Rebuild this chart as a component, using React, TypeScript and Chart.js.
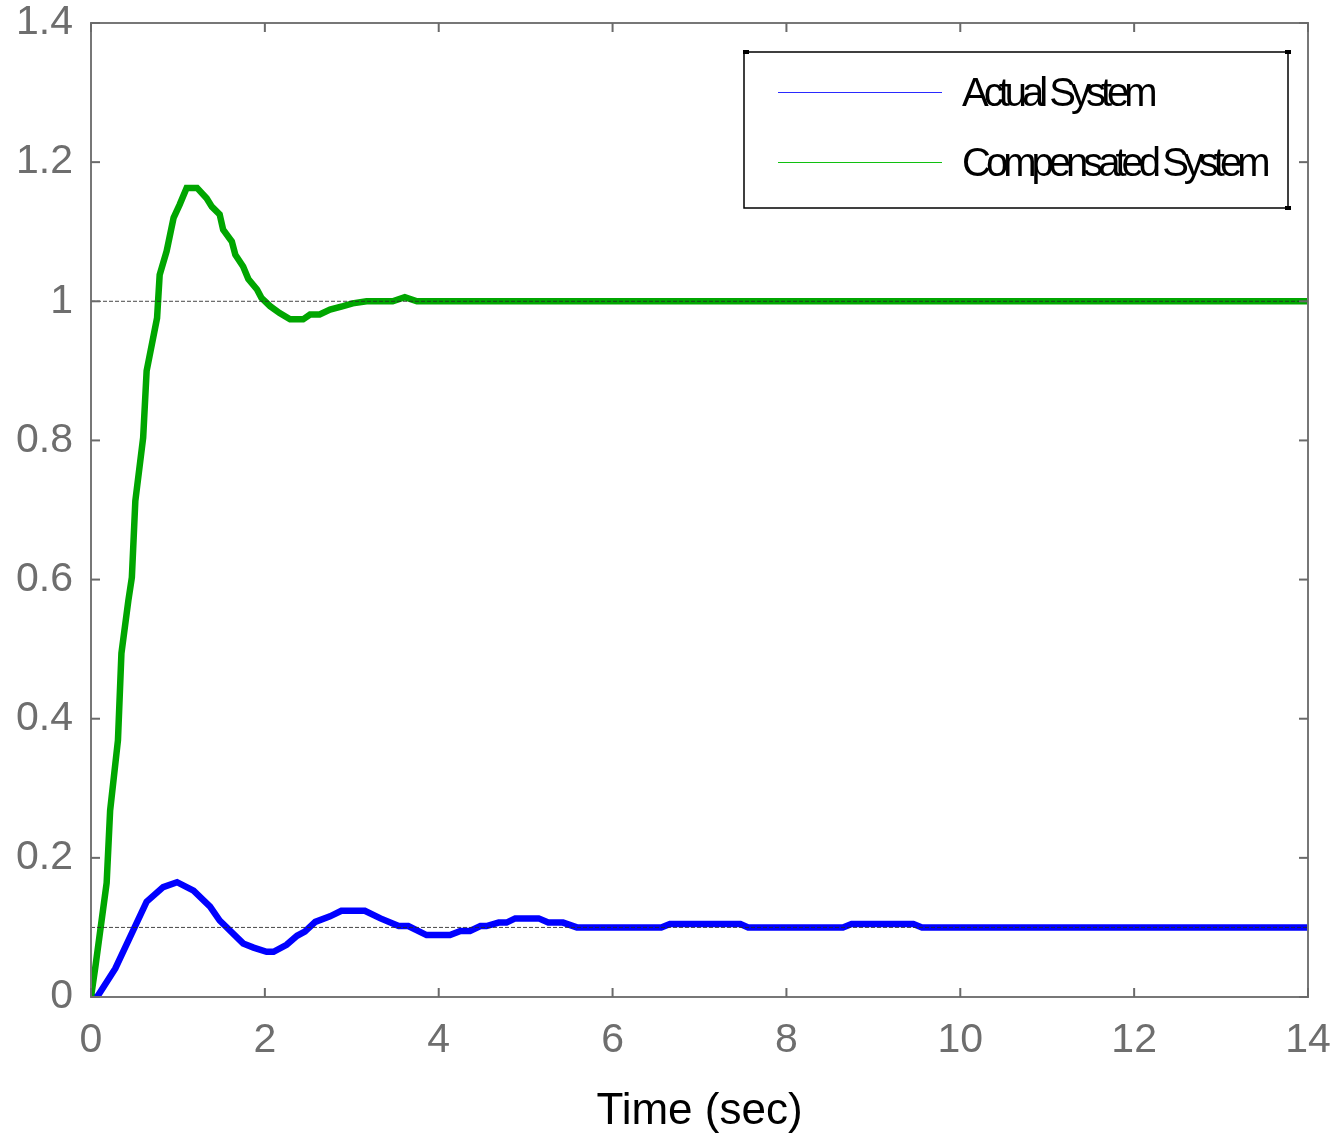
import React, { useEffect, useRef } from "react";
import { Chart, registerables } from "chart.js";

Chart.register(...registerables);

const seriesNames = ["Actual System", "Compensated System"];
const seriesColors = ["#0000ff", "#00a600"];
const legendColors = ["#2a2aff", "#10c010"];

// time (sec), response
const actualT = [0, 0.07, 0.28, 0.64, 0.83, 0.99, 1.18, 1.37, 1.48, 1.75, 1.87, 2.02, 2.1, 2.25, 2.37, 2.46, 2.58, 2.75, 2.88, 3.15, 3.33, 3.54, 3.65, 3.86, 4.13, 4.25, 4.36, 4.48, 4.55, 4.69, 4.78, 4.88, 5.15, 5.26, 5.43, 5.59, 6.56, 6.66, 7.47, 7.56, 8.65, 8.75, 9.46, 9.56, 14];
const actualY = [0, 0.0, 0.041, 0.137, 0.158, 0.165, 0.153, 0.13, 0.11, 0.077, 0.071, 0.065, 0.065, 0.075, 0.088, 0.094, 0.108, 0.116, 0.124, 0.124, 0.113, 0.102, 0.102, 0.089, 0.089, 0.095, 0.095, 0.102, 0.102, 0.107, 0.107, 0.113, 0.113, 0.107, 0.107, 0.1, 0.1, 0.105, 0.105, 0.1, 0.1, 0.105, 0.105, 0.1, 0.1];

const compT = [0, 0.05, 0.18, 0.22, 0.31, 0.35, 0.43, 0.47, 0.51, 0.6, 0.64, 0.76, 0.79, 0.87, 0.95, 1.02, 1.1, 1.22, 1.33, 1.39, 1.48, 1.52, 1.62, 1.66, 1.75, 1.81, 1.91, 1.96, 2.06, 2.17, 2.29, 2.44, 2.52, 2.63, 2.75, 2.9, 3.01, 3.17, 3.47, 3.61, 3.75, 14];
const compY = [0, 0.043, 0.164, 0.268, 0.369, 0.494, 0.57, 0.603, 0.713, 0.804, 0.9, 0.976, 1.038, 1.072, 1.12, 1.139, 1.163, 1.163, 1.148, 1.136, 1.125, 1.103, 1.086, 1.067, 1.05, 1.032, 1.017, 1.005, 0.993, 0.983, 0.974, 0.974, 0.981, 0.981, 0.988, 0.993, 0.997, 1.0, 1.0, 1.006, 1.0, 1.0];

// steady-state reference levels
const refLevels = [1, 0.1];

const xTickLabels = ["0", "2", "4", "6", "8", "10", "12", "14"];
const yTickLabels = ["0", "0.2", "0.4", "0.6", "0.8", "1", "1.2", "1.4"];
const xTitle = "Time (sec)";

const FONT = "'Liberation Sans', Arial, sans-serif";

const framePlugin = {
  id: "frame",
  afterDatasetsDraw(chart: any) {
    const { ctx, chartArea: a, scales } = chart;
    ctx.save();
    ctx.strokeStyle = "#777777";
    ctx.lineWidth = 2;
    ctx.strokeRect(a.left, a.top, a.right - a.left, a.bottom - a.top);
    const tl = 9;
    const seg = (x1: number, y1: number, x2: number, y2: number) => {
      ctx.beginPath();
      ctx.moveTo(x1, y1);
      ctx.lineTo(x2, y2);
      ctx.stroke();
    };
    ctx.strokeStyle = "#6a6a6a";
    scales.x.ticks.forEach((t: any) => {
      const px = scales.x.getPixelForValue(t.value);
      seg(px, a.bottom, px, a.bottom - tl);
      seg(px, a.top, px, a.top + tl);
    });
    scales.y.ticks.forEach((t: any) => {
      const py = scales.y.getPixelForValue(t.value);
      seg(a.left, py, a.left + tl, py);
      seg(a.right, py, a.right - tl, py);
    });

    // legend box
    const lx = a.right - 564;
    const ly = a.top + 29;
    const lw = 544;
    const lh = 156;
    ctx.fillStyle = "#ffffff";
    ctx.fillRect(lx, ly, lw, lh);
    ctx.strokeStyle = "#000000";
    ctx.lineWidth = 1.5;
    ctx.strokeRect(lx, ly, lw, lh);
    ctx.fillStyle = "#000";
    ctx.fillRect(lx - 1, ly - 2, 6, 4);
    ctx.fillRect(lw + lx - 3, ly - 2, 6, 4);
    ctx.fillRect(lw + lx - 3, ly + lh - 2, 6, 4);
    seriesNames.forEach((name, i) => {
      const yy = Math.round(ly + 40 + i * 70) + 0.5;
      ctx.strokeStyle = legendColors[i];
      ctx.lineWidth = 1;
      seg(lx + 34, yy, lx + 198, yy);
      ctx.fillStyle = "#000";
      ctx.font = `40px ${FONT}`;
      ctx.textBaseline = "middle";
      ctx.textAlign = "left";
      (ctx as any).letterSpacing = "-5px";
      ctx.fillText(name, lx + 218, yy + 2);
      (ctx as any).letterSpacing = "0px";
    });
    ctx.restore();
  },
};

export default function App() {
  const ref = useRef<HTMLCanvasElement>(null);
  useEffect(() => {
    document.body.style.margin = "0";
    const canvas = ref.current!;
    const toPts = (ts: number[], ys: number[]) => ts.map((t, i) => ({ x: t, y: ys[i] }));
    const refSets = refLevels.map((lv) => ({
      label: "ref" + lv,
      data: [{ x: 0, y: lv }, { x: 14, y: lv }],
      borderColor: "rgba(40,40,40,0.85)",
      borderWidth: 1,
      borderDash: [4, 2],
      pointRadius: 0,
      order: 0,
    }));
    const zeroPad = (s: any) => {
      s.paddingTop = 0;
      s.paddingBottom = 0;
      s.paddingLeft = 0;
      s.paddingRight = 0;
    };
    const chart = new Chart(canvas, {
      type: "line",
      data: {
        datasets: [
          ...refSets,
          {
            label: seriesNames[0],
            data: toPts(actualT, actualY),
            borderColor: seriesColors[0],
            borderWidth: 6.5,
            pointRadius: 0,
            tension: 0,
            order: 2,
          },
          {
            label: seriesNames[1],
            data: toPts(compT, compY),
            borderColor: seriesColors[1],
            borderWidth: 6.5,
            pointRadius: 0,
            tension: 0,
            order: 1,
          },
        ],
      },
      options: {
        animation: false,
        responsive: false,
        devicePixelRatio: 1,
        layout: { padding: { left: 0, top: 23, right: 32, bottom: 0 } },
        plugins: { legend: { display: false }, tooltip: { enabled: false } },
        scales: {
          x: {
            type: "linear",
            min: 0,
            max: 14,
            grid: { display: false, drawTicks: false },
            border: { display: false },
            ticks: {
              stepSize: 2,
              padding: 19,
              color: "#6e6e6e",
              font: { size: 41, family: FONT },
              maxRotation: 0,
              callback: (v: any, i: number) => xTickLabels[i],
            },
            title: {
              display: true,
              text: xTitle,
              color: "#000",
              font: { size: 44, family: FONT },
              padding: { top: 0, bottom: 0 },
            },
            afterFit: (s: any) => {
              s.height = 141;
              zeroPad(s);
            },
          },
          y: {
            type: "linear",
            min: 0,
            max: 1.4,
            grid: { display: false, drawTicks: false },
            border: { display: false },
            ticks: {
              stepSize: 0.2,
              padding: 18,
              color: "#6e6e6e",
              font: { size: 41, family: FONT },
              callback: (v: any, i: number) => yTickLabels[i],
            },
            afterFit: (s: any) => {
              s.width = 91;
              zeroPad(s);
            },
          },
        },
      },
      plugins: [framePlugin],
    } as any);
    return () => chart.destroy();
  }, []);
  return (
    <canvas
      ref={ref}
      width={1340}
      height={1138}
      style={{ display: "block", width: 1340, height: 1138 }}
    />
  );
}
